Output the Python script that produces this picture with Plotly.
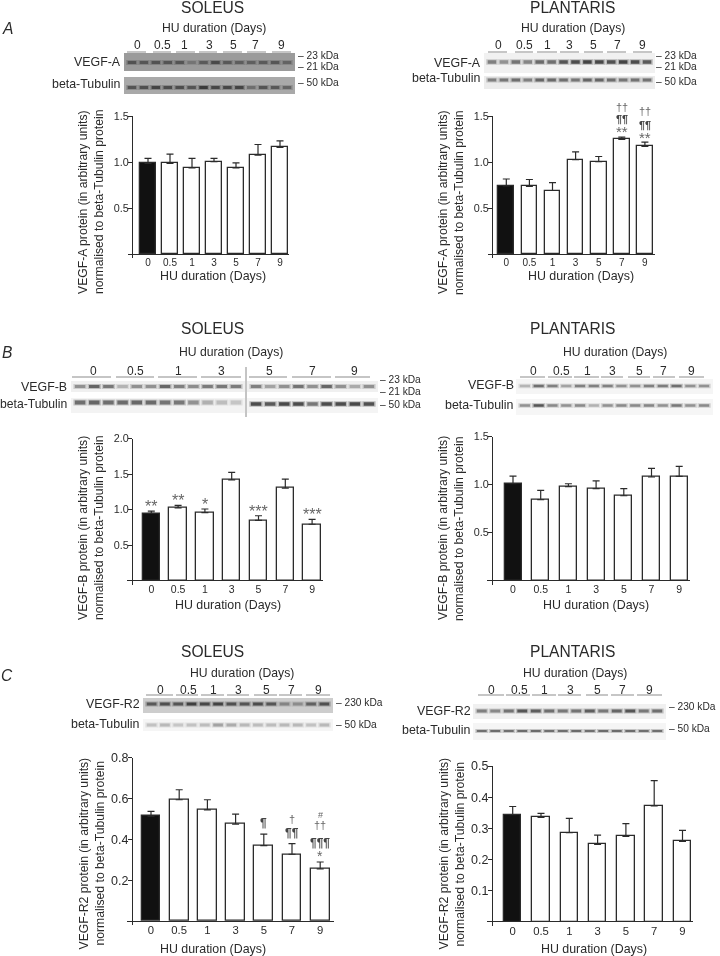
import plotly.graph_objects as go

FONT = "Liberation Sans"
TXT = "#2a2a2a"
W, H = 720, 956

days = ["0", "0.5", "1", "3", "5", "7", "9"]
hu_label = "HU duration (Days)"

# bar heights and the upper end of their error bars
a_sol_val = [0.985, 0.985, 0.935, 1.005, 0.935, 1.075, 1.16]
a_sol_top = [1.04, 1.085, 1.04, 1.04, 0.99, 1.19, 1.23]
a_pla_val = [0.74, 0.735, 0.69, 1.025, 1.005, 1.245, 1.17]
a_pla_top = [0.815, 0.81, 0.775, 1.11, 1.06, 1.27, 1.215]
b_sol_val = [0.95, 1.025, 0.96, 1.42, 0.85, 1.305, 0.795]
b_sol_top = [0.98, 1.06, 1.01, 1.525, 0.915, 1.43, 0.865]
b_pla_val = [1.01, 0.845, 0.98, 0.96, 0.885, 1.08, 1.087]
b_pla_top = [1.09, 0.94, 1.01, 1.04, 0.96, 1.17, 1.19]
c_sol_val = [0.514, 0.594, 0.544, 0.475, 0.369, 0.327, 0.255]
c_sol_top = [0.537, 0.643, 0.594, 0.524, 0.426, 0.379, 0.289]
c_pla_val = [0.344, 0.335, 0.286, 0.248, 0.274, 0.372, 0.258]
c_pla_top = [0.37, 0.348, 0.332, 0.278, 0.315, 0.453, 0.293]

# band grey levels per lane (0 = black, 255 = white)
a_sol_vegf = [70, 75, 70, 72, 72, 110, 80, 60, 78, 82, 85, 80, 75, 90]
a_sol_tub = [70, 65, 50, 60, 62, 70, 40, 55, 55, 50, 100, 70, 75, 90]
a_pla_vegf = [110, 130, 95, 115, 85, 90, 60, 50, 40, 45, 55, 40, 50, 65]
a_pla_tub = [110, 100, 90, 110, 80, 85, 90, 100, 80, 80, 90, 100, 95, 95]
b_sol_vegf = [130, 80, 100, 170, 130, 130, 80, 110, 125, 105, 100, 105,
              110, 150, 130, 95, 130, 80, 130, 160, 130]
b_sol_tub = [90, 80, 90, 85, 80, 85, 95, 100, 130, 165, 180, 190,
             50, 65, 45, 50, 100, 50, 50, 45, 55]
b_pla_vegf = [170, 90, 110, 150, 110, 110, 110, 130, 130, 110, 105, 90, 130, 130]
b_pla_tub = [130, 60, 120, 130, 120, 165, 130, 120, 120, 115, 130, 100, 130, 120]
c_sol_r2 = [70, 60, 65, 40, 50, 45, 60, 65, 55, 65, 120, 130, 80, 60]
c_sol_tub = [185, 175, 190, 185, 180, 150, 160, 175, 180, 180, 175, 175, 185, 175]
c_pla_r2 = [110, 120, 95, 60, 70, 90, 100, 95, 70, 100, 80, 60, 100, 90]
c_pla_tub = [90, 85, 90, 85, 85, 90, 90, 85, 90, 85, 85, 85, 90, 90]

protein = {"a": "VEGF-A", "b": "VEGF-B", "c": "VEGF-R2"}

# geometry in picture pixels
panels = [
    dict(key="a", val=a_sol_val, top=a_sol_top, ymax=1.5, ticks=[0.5, 1.0, 1.5], fmt="%.1f", axis=132,
         ytop=116, y0=254, left=128, right=289, c0=148, s=22, bw=16, cx=83, cy=202, tfs=10.8, xfs=10,
         title_x=213, title_y=276),
    dict(key="a", val=a_pla_val, top=a_pla_top, ymax=1.5, ticks=[0.5, 1.0, 1.5], fmt="%.1f", axis=492,
         ytop=116, y0=254, left=488, right=655, c0=506.3, s=23.1, bw=15.7, cx=443, cy=202, tfs=10.8, xfs=10,
         title_x=581, title_y=276),
    dict(key="b", val=b_sol_val, top=b_sol_top, ymax=2.0, ticks=[0.5, 1.0, 1.5, 2.0], fmt="%.1f", axis=132,
         ytop=438.7, y0=580.7, left=127, right=323, c0=151.3, s=26.8, bw=17.3, cx=83, cy=528, tfs=10.8, xfs=10.5,
         title_x=228, title_y=605),
    dict(key="b", val=b_pla_val, top=b_pla_top, ymax=1.5, ticks=[0.5, 1.0, 1.5], fmt="%.1f", axis=492,
         ytop=436.7, y0=580.7, left=487, right=690, c0=513, s=27.7, bw=17, cx=443, cy=528, tfs=10.8, xfs=10.5,
         title_x=596, title_y=605),
    dict(key="c", val=c_sol_val, top=c_sol_top, ymax=0.8, ticks=[0.2, 0.4, 0.6, 0.8], fmt="%.1f", axis=132,
         ytop=757.7, y0=921, left=127, right=334, c0=151, s=28.2, bw=18.7, cx=83, cy=853.5, tfs=12.5, xfs=11.3,
         title_x=213, title_y=949),
    dict(key="c", val=c_pla_val, top=c_pla_top, ymax=0.5, ticks=[0.1, 0.2, 0.3, 0.4, 0.5], fmt="%.1f", axis=492,
         ytop=766, y0=921.7, left=487, right=693, c0=512.7, s=28.3, bw=17.5, cx=443, cy=853.5, tfs=12.5, xfs=11.3,
         title_x=594, title_y=949),
]

# significance symbols: panel, lane, list of (text, pixels above the error-bar end, size)
marks = [
    (1, 5, [("**", 1, 15), ("¶¶", 16, 11), ("††", 28, 11)]),
    (1, 6, [("**", 0, 15), ("¶¶", 15, 11), ("††", 29, 11)]),
    (2, 0, [("**", 0, 16)]),
    (2, 1, [("**", 0, 16)]),
    (2, 2, [("*", 0, 16)]),
    (2, 4, [("***", 0, 16)]),
    (2, 6, [("***", 0, 16)]),
    (4, 4, [("¶", 8, 12)]),
    (4, 5, [("¶¶", 8, 12), ("†", 23, 11)]),
    (4, 6, [("*", 2, 14), ("¶¶¶", 16, 12), ("††", 35, 11), ("#", 46, 9)]),
]

# blots: x0, x1, y0, y1, background, band y, band height, band levels
blots = [
    (124, 295, 53, 71, "#9b9b9b", 62.5, 3, a_sol_vegf),
    (124, 295, 77, 94, "#a9a9a9", 87.5, 3, a_sol_tub),
    (484, 655, 53, 73, "#f1f1f1", 62, 3.5, a_pla_vegf),
    (484, 655, 76, 89, "#ececec", 80, 3, a_pla_tub),
    (71, 245, 381, 392, "#f0f0f0", 386.5, 3, b_sol_vegf[:12]),
    (247, 378, 381, 392, "#f0f0f0", 386.5, 3, b_sol_vegf[12:]),
    (71, 245, 398, 413, "#f3f3f3", 402.5, 4, b_sol_tub[:12]),
    (247, 378, 398, 413, "#f4f4f4", 404, 3.5, b_sol_tub[12:]),
    (516, 713, 379, 394, "#f5f5f5", 386, 2.5, b_pla_vegf),
    (516, 713, 399, 415, "#f6f6f6", 405.5, 2.5, b_pla_tub),
    (143, 333, 698, 713, "#cdcdcd", 704, 3, c_sol_r2),
    (143, 333, 719, 731, "#f5f5f5", 725, 3, c_sol_tub),
    (473, 666, 704, 719, "#f0f0f0", 711, 3, c_pla_r2),
    (473, 666, 723, 740, "#f5f5f5", 731, 2, c_pla_tub),
]

# lane-group headers: underline segments (picture px), label centres, underline y, label y
headers = [
    ([(127, 146), (153, 171), (176, 195), (199, 217), (223, 242), (247, 266), (272, 291)],
     [137, 162, 185, 209, 233, 255, 281], 52, 45),
    ([(488, 507), (515, 533), (537, 557), (560, 579), (584, 603), (607, 626), (633, 652)],
     [498, 524, 547, 569, 593, 617, 642], 52, 45),
    ([(72, 111), (116, 154), (158, 197), (201, 241), (249, 287), (292, 331), (335, 370)],
     [93, 135, 178, 221, 269, 312, 354], 377, 371),
    ([(520, 545), (548, 572), (574, 599), (601, 623), (628, 650), (653, 675), (679, 704)],
     [533, 561, 587, 612, 639, 663, 691], 377, 371),
    ([(146, 173), (176, 198), (201, 224), (227, 249), (254, 277), (279, 302), (306, 330)],
     [160, 188, 213, 238, 266, 291, 318], 695, 690),
    ([(478, 504), (506, 530), (532, 556), (558, 581), (586, 608), (611, 634), (637, 662)],
     [491, 519, 544, 570, 597, 622, 649], 695, 690),
]

# free-standing text: text, x, y, anchor, size
labels = [
    ("SOLEUS", 212, 7, "center", 15.6), ("PLANTARIS", 573, 7, "center", 15.6),
    ("SOLEUS", 212, 328, "center", 15.6), ("PLANTARIS", 573, 328, "center", 15.6),
    ("SOLEUS", 212, 651, "center", 15.6), ("PLANTARIS", 573, 651, "center", 15.6),
    (hu_label, 214, 28, "center", 12.2), (hu_label, 573, 28, "center", 12.2),
    (hu_label, 231, 352, "center", 12.2), (hu_label, 615, 352, "center", 12.2),
    (hu_label, 242, 673, "center", 12.2), (hu_label, 575, 673, "center", 12.2),
    ("VEGF-A", 122, 62, "right", 12.4), ("beta-Tubulin", 122, 84, "right", 12.4),
    ("VEGF-A", 482, 63, "right", 12.4), ("beta-Tubulin", 482, 78, "right", 12.4),
    ("VEGF-B", 68, 387, "right", 12.4), ("beta-Tubulin", 68, 404, "right", 12.2),
    ("VEGF-B", 515, 385, "right", 12.4), ("beta-Tubulin", 515, 405, "right", 12.4),
    ("VEGF-R2", 141, 704, "right", 12.4), ("beta-Tubulin", 141, 724, "right", 12.4),
    ("VEGF-R2", 472, 711, "right", 12.4), ("beta-Tubulin", 472, 730, "right", 12.4),
    ("– 23 kDa", 297, 55, "left", 10.2), ("– 21 kDa", 297, 66, "left", 10.2), ("– 50 kDa", 297, 83, "left", 10.2),
    ("– 23 kDa", 655, 55, "left", 10.2), ("– 21 kDa", 655, 66, "left", 10.2), ("– 50 kDa", 655, 82, "left", 10.2),
    ("– 23 kDa", 379, 379, "left", 10.2), ("– 21 kDa", 379, 391, "left", 10.2), ("– 50 kDa", 379, 405, "left", 10.2),
    ("– 230 kDa", 335, 702, "left", 10.2), ("– 50 kDa", 335, 724, "left", 10.2),
    ("– 230 kDa", 668, 706, "left", 10.2), ("– 50 kDa", 668, 728, "left", 10.2),
]
letters = [("A", 7, 28), ("B", 7, 352), ("C", 7, 675)]


def fx(px):
    return px / W


def fy(py):
    return 1 - py / H


def grey(v):
    v = int(max(0, min(255, v)))
    return f"rgb({v},{v},{v})"


fig = go.Figure()
layout = {}
annotations = []
shapes = []


def text(t, x, y, anchor="center", size=12, angle=0, italic=False):
    annotations.append(dict(
        text=f"<i>{t}</i>" if italic else t, x=fx(x), y=fy(y), xref="paper", yref="paper",
        xanchor=anchor, yanchor="middle", showarrow=False, textangle=angle,
        font=dict(family=FONT, size=size, color=TXT), borderpad=0))


def rect(x0, x1, y0, y1, color, opacity=1.0):
    shapes.append(dict(type="rect", xref="paper", yref="paper", x0=fx(x0), x1=fx(x1), y0=fy(y0), y1=fy(y1),
                       fillcolor=color, opacity=opacity, line=dict(width=0), layer="below"))


for i, p in enumerate(panels, start=1):
    scale = (p["y0"] - p["ytop"]) / p["ymax"]
    ybot = p["y0"] + 4
    xa, ya = f"xaxis{i}", f"yaxis{i}"
    fig.add_trace(go.Bar(
        x=list(range(7)), y=p["val"], xaxis=f"x{i}", yaxis=f"y{i}", width=p["bw"] / p["s"],
        marker=dict(color=["#111111"] + ["#ffffff"] * 6, line=dict(color="#2b2b2b", width=1.3)),
        error_y=dict(type="data", symmetric=False,
                     array=[t - v for t, v in zip(p["top"], p["val"])], arrayminus=[0] * 7,
                     color="#2b2b2b", thickness=1.2, width=3.5),
        showlegend=False, hoverinfo="skip"))
    layout[xa] = dict(
        domain=[fx(p["left"]), fx(p["right"])],
        range=[(p["left"] - p["c0"]) / p["s"], (p["right"] - p["c0"]) / p["s"]],
        anchor=f"y{i}", tickmode="array", tickvals=list(range(7)), ticktext=days, ticks="",
        showgrid=False, zeroline=False, showline=False, ticklabelstandoff=-3, automargin=False,
        tickfont=dict(family=FONT, size=p["xfs"], color=TXT))
    layout[ya] = dict(
        domain=[fy(ybot), fy(p["ytop"])], range=[-4 / scale, p["ymax"]],
        anchor="free", position=fx(p["axis"]), automargin=False, ticklabelstandoff=-3,
        tickmode="array", tickvals=p["ticks"], ticktext=[p["fmt"] % t for t in p["ticks"]],
        ticks="outside", ticklen=4, tickwidth=1.2, tickcolor="#2b2b2b",
        showline=True, linecolor="#2b2b2b", linewidth=1.3, showgrid=False,
        zeroline=True, zerolinecolor="#2b2b2b", zerolinewidth=1.3,
        tickfont=dict(family=FONT, size=p["tfs"], color=TXT))
    name = protein[p["key"]]
    text(f"{name} protein (in arbitrary units)", p["cx"], p["cy"], size=12.2, angle=-90)
    text("normalised to beta-Tubulin protein", p["cx"] + 16, p["cy"], size=12.2, angle=-90)
    text(hu_label, p["title_x"], p["title_y"], size=12.4)

for pi, lane, stack in marks:
    p = panels[pi]
    for t, off, size in stack:
        para = "¶" in t
        annotations.append(dict(
            text=f"<b>{t}</b>" if para else t, x=lane, y=p["top"][lane], xref=f"x{pi + 1}", yref=f"y{pi + 1}",
            yanchor="bottom", xanchor="center", showarrow=False, yshift=off - 5, borderpad=0,
            font=dict(family=FONT, size=size, color="#444444" if para else "#666666")))

for x0, x1, y0, y1, bg, by, bh, levels in blots:
    rect(x0, x1, y0, y1, bg)
    n = len(levels)
    lane_w = (x1 - x0 - 4) / n
    for k, lev in enumerate(levels):
        a = x0 + 2 + k * lane_w + lane_w * 0.06
        b = x0 + 2 + (k + 1) * lane_w - lane_w * 0.06
        rect(a - 0.5, b + 0.5, by - bh / 2 - 1, by + bh / 2 + 1, grey(lev), 0.3)
        rect(a + 1, b - 1, by - bh / 2, by + bh / 2, grey(lev), 0.8)

for segs, centres, uy, ly in headers:
    for (a, b), c, d in zip(segs, centres, days):
        rect(a, b, uy - 0.5, uy + 0.5, "#8c8c8c")
        text(d, c, ly, size=12)

shapes.append(dict(type="line", xref="paper", yref="paper", x0=fx(246), x1=fx(246), y0=fy(367), y1=fy(417),
                   line=dict(color="#8a8a8a", width=1), layer="below"))

for t, x, y, anc, size in labels:
    text(t, x, y, anc, size)
for t, x, y in letters:
    text(t, x, y, "center", 15.6, italic=True)

fig.update_layout(
    width=W, height=H, autosize=False, margin=dict(l=0, r=0, t=0, b=0, pad=0),
    paper_bgcolor="white", plot_bgcolor="rgba(0,0,0,0)", bargap=0,
    annotations=annotations, shapes=shapes, **layout)

fig.write_html("out.html", config=dict(displayModeBar=False),
               post_script="document.body.style.margin='0';document.body.style.overflow='hidden';"
                           "document.querySelector('.plotly-graph-div').style.filter='grayscale(1) blur(0.35px)';")
